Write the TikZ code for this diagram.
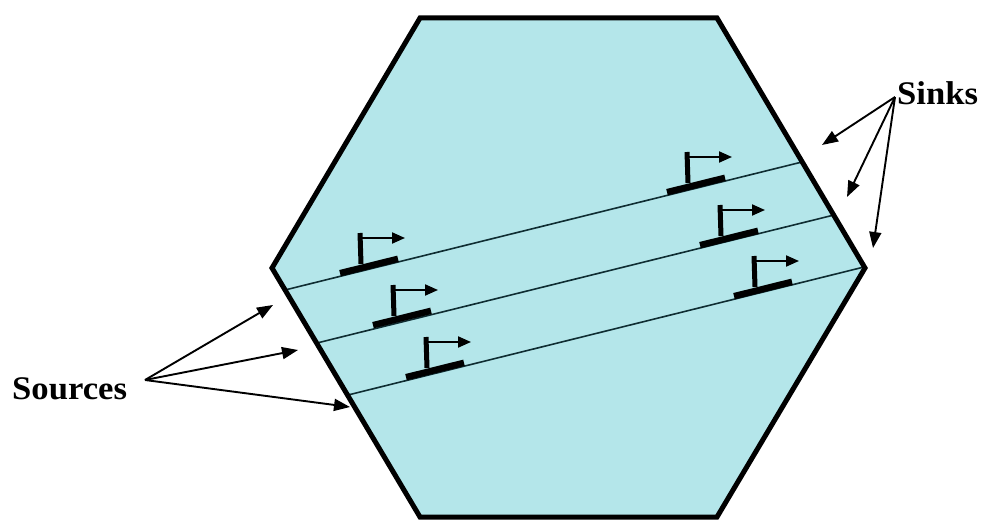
\documentclass[tikz,border=0pt]{standalone}
\usepackage{fontspec}
\setmainfont{Liberation Serif}
\newfontfamily\lblfont{Liberation Serif}[FakeStretch=1.05]
\usetikzlibrary{arrows.meta,calc}
\definecolor{hexfill}{RGB}{180,230,234}
\definecolor{linecol}{RGB}{15,45,50}
\begin{document}
\begin{tikzpicture}[x=1pt,y=-1pt,
  hexborder/.style={line width=5pt, line join=miter, draw=black},
  chan/.style={line width=1.6pt, draw=linecol},
  lbl/.style={font=\lblfont\bfseries\fontsize{33}{33}\selectfont, inner sep=0pt, anchor=base west},
  pointer/.style={line width=1.9pt, -{Triangle[length=16pt,width=12pt]}},
  radio/.pic={
    \draw[line width=6.5pt] (-29,7.2) -- (29,-7.2);
    \draw[line width=5pt] (-8,-2) -- (-9,-33);
    \draw[line width=2pt,-{Triangle[length=13pt,width=11pt]}] (-8,-28) -- (36,-28);
  }]
\useasboundingbox[fill=white] (0,0) rectangle (981,521);
% hexagon corners
\coordinate (h1) at (420,18);
\coordinate (h2) at (717,18);
\coordinate (h3) at (865,268);
\coordinate (h4) at (717,517);
\coordinate (h5) at (420,517);
\coordinate (h6) at (272,268);
\fill[hexfill] (h1) -- (h2) -- (h3) -- (h4) -- (h5) -- (h6) -- cycle;
% channel lines
\coordinate (a1) at (285,290);
\coordinate (b1) at (802,162);
\coordinate (a2) at (317,343);
\coordinate (b2) at (834,215);
\coordinate (a3) at (348,395);
\coordinate (b3) at (864,267);
\draw[chan] (a1) -- (b1);
\draw[chan] (a2) -- (b2);
\draw[chan] (a3) -- (b3);
% transmitters / receivers
\pic at (369,266) {radio};
\pic at (402,318) {radio};
\pic at (435,370) {radio};
\pic at (696,185) {radio};
\pic at (729,238) {radio};
\pic at (763,289) {radio};
% hexagon border
\draw[hexborder] (h1) -- (h2) -- (h3) -- (h4) -- (h5) -- (h6) -- cycle;
% labels
\node[lbl] (sources) at (12,399) {Sources};
\node[lbl] (sinks) at (897,105) {Sinks};
\coordinate (srcO) at (145,380);
\coordinate (snkO) at (895,97);
\coordinate (s1) at (273,305);
\coordinate (s2) at (298,350);
\coordinate (s3) at (350,407);
\coordinate (k1) at (822,145);
\coordinate (k2) at (847,197);
\coordinate (k3) at (873,248);
\draw[pointer] (srcO) -- (s1);
\draw[pointer] (srcO) -- (s2);
\draw[pointer] (srcO) -- (s3);
\draw[pointer] (snkO) -- (k1);
\draw[pointer] (snkO) -- (k2);
\draw[pointer] (snkO) -- (k3);
\end{tikzpicture}
\end{document}
